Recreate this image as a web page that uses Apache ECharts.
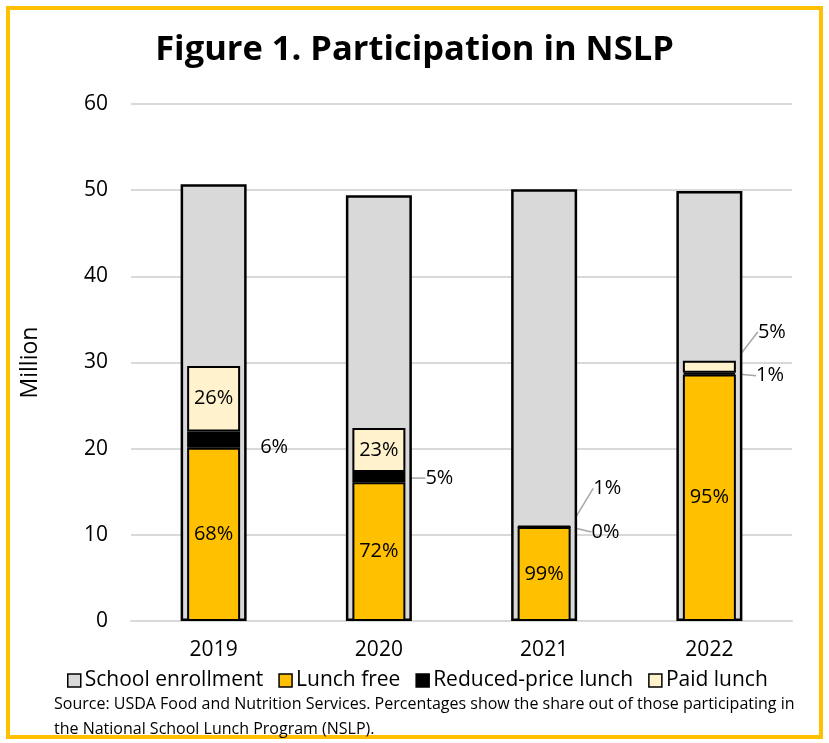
<!DOCTYPE html>
<html>
<head>
<meta charset="utf-8">
<script src="https://cdn.jsdelivr.net/npm/echarts@6/dist/echarts.min.js"></script>
<style>
    html, body { margin: 0; padding: 0; background: #fff; }
    #chart { width: 829px; height: 743px; }
</style>
</head>
<body>
<div id="chart"></div>
<script>
// 数据 (million)
var years = ['2019', '2020', '2021', '2022'];
var enrollment = [50.7, 49.4, 50.1, 49.9];
var lunchFree = [20.1, 16.1, 10.9, 28.6];
var reducedPrice = [1.9, 1.2, 0.03, 0.2];
var paidLunch = [7.6, 5.1, 0.1, 1.4];
var yTicks = [0, 10, 20, 30, 40, 50, 60];

(function () {
    var chart = echarts.init(document.getElementById('chart'));
    var font = '"Open Sans", "Noto Sans", sans-serif';

    function share(v, i) {
        var total = lunchFree[i] + reducedPrice[i] + paidLunch[i];
        return Math.round(v / total * 100) + '%';
    }

    // label offsets for the small segments (px)
    var reducedDy = [8, 1, 5, 2];
    var reducedLine = [false, true, true, true];
    var paidOutside = [false, false, true, true];
    var paidDy = [0, 0, -38, -35];

    var inner = {
        type: 'bar',
        stack: 'part',
        xAxisIndex: 1,
        barWidth: 53,
        itemStyle: { borderColor: '#000', borderWidth: 2 }
    };
    var insideLabel = {
        show: true,
        position: 'inside',
        color: '#000',
        fontSize: 20,
        fontFamily: font
    };

    var option = {
        animation: false,
        textStyle: { fontFamily: font },
        title: [{
            text: 'Figure 1. Participation in NSLP',
            left: 'center',
            top: 28,
            textStyle: { fontSize: 34.5, fontWeight: 'bold', color: '#000', fontFamily: font }
        }, {
            text: 'Source: USDA Food and Nutrition Services. Percentages show the share out of those participating in\nthe National School Lunch Program (NSLP).',
            left: 49,
            top: 687,
            textStyle: { fontSize: 16, fontWeight: 'normal', color: '#000', lineHeight: 25, fontFamily: font }
        }],
        graphic: [{
            type: 'rect',
            shape: { x: 8, y: 8, width: 813, height: 729 },
            style: { fill: 'none', stroke: '#FFC000', lineWidth: 4 },
            silent: true
        }],
        legend: {
            left: 62,
            top: 665,
            itemWidth: 13,
            itemHeight: 13,
            itemGap: 15,
            icon: 'rect',
            textStyle: { fontSize: 21, color: '#000', padding: [0, 0, 0, -1] },
            itemStyle: { borderColor: '#000', borderWidth: 1.5 },
            data: ['School enrollment', 'Lunch free', 'Reduced-price lunch', 'Paid lunch']
        },
        grid: { left: 131, right: 37, top: 104, bottom: 122 },
        xAxis: [{
            type: 'category',
            data: years,
            axisTick: { show: false },
            axisLine: { lineStyle: { color: '#d9d9d9', width: 2 } },
            axisLabel: { fontSize: 21, color: '#000', margin: 19 }
        }, {
            type: 'category',
            data: years,
            show: false
        }],
        yAxis: {
            type: 'value',
            min: yTicks[0],
            max: yTicks[yTicks.length - 1],
            interval: 10,
            name: 'Million',
            nameLocation: 'middle',
            nameRotate: 90,
            nameGap: 89,
            nameTextStyle: { fontSize: 23, color: '#000' },
            axisLine: { show: false },
            axisTick: { show: false },
            axisLabel: { fontSize: 21, color: '#000', margin: 23 },
            splitLine: { lineStyle: { color: '#d9d9d9', width: 2 } }
        },
        series: [
            {
                name: 'School enrollment',
                type: 'bar',
                xAxisIndex: 0,
                barWidth: 66,
                data: enrollment,
                itemStyle: { color: '#d9d9d9', borderColor: '#000', borderWidth: 2.5 }
            },
            Object.assign({}, inner, {
                name: 'Lunch free',
                data: lunchFree,
                itemStyle: { color: '#FFC000', borderColor: '#000', borderWidth: 2 },
                label: Object.assign({}, insideLabel, {
                    formatter: function (p) { return share(p.value, p.dataIndex); }
                })
            }),
            Object.assign({}, inner, {
                name: 'Reduced-price lunch',
                data: reducedPrice.map(function (v, i) {
                    return { value: v, labelLine: { show: reducedLine[i] } };
                }),
                itemStyle: { color: '#000', borderColor: '#000', borderWidth: 2 },
                label: {
                    show: true,
                    position: 'right',
                    distance: 20,
                    color: '#000',
                    fontSize: 20,
                    fontFamily: font,
                    formatter: function (p) { return share(p.value, p.dataIndex); }
                },
                labelLine: { show: true, lineStyle: { color: '#a6a6a6', width: 1.5 } },
                labelLayout: function (p) {
                    return { dy: reducedDy[p.dataIndex] };
                }
            }),
            Object.assign({}, inner, {
                name: 'Paid lunch',
                data: paidLunch.map(function (v, i) {
                    if (!paidOutside[i]) return { value: v, labelLine: { show: false } };
                    return { value: v, label: { position: 'right', distance: 22 } };
                }),
                itemStyle: { color: '#FFF2CC', borderColor: '#000', borderWidth: 2 },
                label: Object.assign({}, insideLabel, {
                    formatter: function (p) { return share(p.value, p.dataIndex); }
                }),
                labelLine: { show: true, lineStyle: { color: '#a6a6a6', width: 1.5 } },
                labelLayout: function (p) {
                    return { dy: paidDy[p.dataIndex] };
                }
            })
        ]
    };
    chart.setOption(option);
})();
</script>
</body>
</html>
